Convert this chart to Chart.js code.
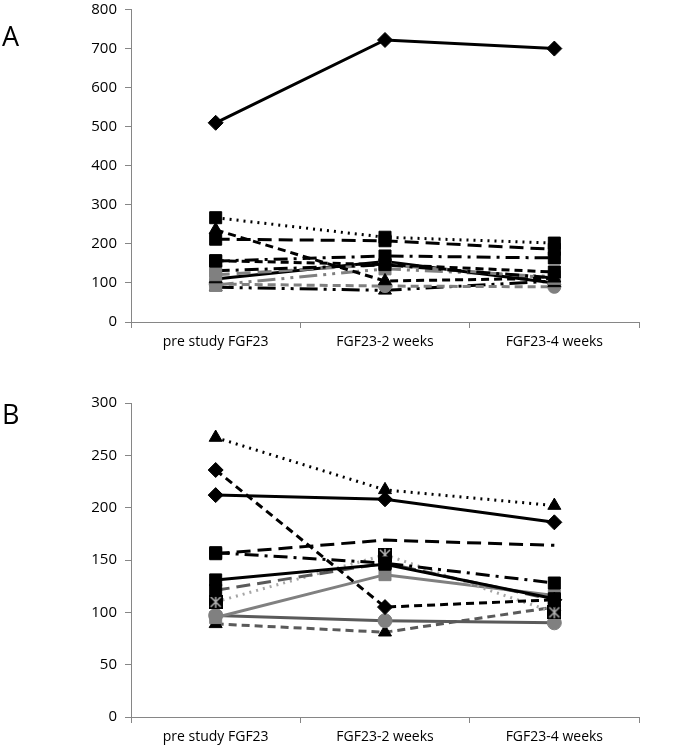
<!DOCTYPE html>
<html><head><meta charset="utf-8">
<script src="https://cdn.jsdelivr.net/npm/chart.js@4"></script>
<style>
body{margin:0;background:#fff;width:689px;height:750px;position:relative;overflow:hidden;font-family:"Open Sans",sans-serif}
.wrap{position:absolute;left:0;width:689px}
#wa{top:0;height:370px}
#wb{top:390px;height:360px}
.lab{position:absolute;left:2px;font-size:27px;line-height:27px;color:#000}
</style></head><body>
<div id="wa" class="wrap"><canvas id="ca"></canvas></div>
<div id="wb" class="wrap"><canvas id="cb"></canvas></div>
<div class="lab" style="top:22px">A</div>
<div class="lab" style="top:400px">B</div>
<script>
// ---- data ----
const categories = ["pre study FGF23", "FGF23-2 weeks", "FGF23-4 weeks"];
const ticksA = [0, 100, 200, 300, 400, 500, 600, 700, 800];
const ticksB = [0, 50, 100, 150, 200, 250, 300];
const pt0  = [510, 722, 700];
const pt1  = [267, 217, 202];
const pt2  = [212, 208, 186];
const pt3  = [236, 105, 112];
const pt4  = [156, 169, 164];
const pt5  = [157, 147, 128];
const pt6  = [131, 146, 113];
const pt7  = [121, 147, 112];
const pt8  = [110, 155, 100];
const pt9  = [95, 136, 116];
const pt10 = [97, 92, 90];
const pt11 = [89, 81, 105];

// ---- styles ----
const BLK = '#000000', DG = '#5a5a5a', G = '#808080', LG = '#a6a6a6';
const DOT = [2, 5], DASH = [8, 5], LDASH = [14, 7], DDOT = [14, 6, 3, 6], LDDOT = [18, 6, 3, 6, 3, 6];

// Excel-like "star" marker: filled square with an asterisk drawn over it
function starMarker(fill, stroke) {
  const c = document.createElement('canvas');
  c.width = 14; c.height = 14;
  const x = c.getContext('2d');
  x.fillStyle = fill; x.fillRect(0, 0, 14, 14);
  x.strokeStyle = stroke; x.lineWidth = 1.5;
  x.beginPath();
  x.moveTo(2, 2); x.lineTo(12, 12);
  x.moveTo(12, 2); x.lineTo(2, 12);
  x.moveTo(7, 1); x.lineTo(7, 13);
  x.stroke();
  return c;
}
const STAR = starMarker('#000', '#b0b0b0');

function ds(data, color, dash, style, r, pcolor, w) {
  return {
    data, borderColor: color, borderWidth: w || 3, borderDash: dash || [],
    pointStyle: style, pointRadius: r, pointBackgroundColor: pcolor || color,
    pointBorderColor: pcolor || color, pointBorderWidth: 1, tension: 0, fill: false
  };
}
const dsA = [
  ds(pt0, BLK, null, 'rectRot', 7.5),
  ds(pt1, BLK, DOT, 'rect', 8.5),
  ds(pt2, BLK, LDASH, 'rect', 8.5),
  ds(pt3, BLK, DASH, 'triangle', 7.5),
  ds(pt4, BLK, DDOT, 'rect', 8.5),
  ds(pt5, BLK, DASH, 'rect', 8.5),
  ds(pt6, BLK, DDOT, 'rect', 8.5, G),
  ds(pt7, G, LDASH, 'rect', 8.5, G),
  ds(pt8, BLK, null, 'triangle', 7.5),
  ds(pt9, G, LDDOT, 'rect', 8.5, G),
  ds(pt10, G, DASH, 'circle', 6.5, G),
  ds(pt11, BLK, LDDOT, 'triangle', 7.5)
];
const dsB = [
  ds(pt1, BLK, DOT, 'triangle', 7.5),
  ds(pt2, BLK, null, 'rectRot', 7.5),
  ds(pt3, BLK, DASH, 'rectRot', 7.5),
  ds(pt4, BLK, LDASH, 'rect', [8.5, 0, 0]),
  ds(pt5, BLK, DDOT, 'rect', 8.5),
  ds(pt6, BLK, null, 'rect', 8.5),
  ds(pt7, DG, LDASH, 'rect', 8.5, BLK),
  ds(pt8, LG, DOT, STAR, 7, LG),
  ds(pt9, G, null, 'rect', 8.5, G),
  ds(pt10, DG, null, 'circle', 7, G),
  ds(pt11, DG, DASH, 'triangle', 7.5, BLK)
];

const XFONT = {family: 'Open Sans', size: 14};
const YFONT = {family: 'Open Sans', size: 15};
function makeChart(id, datasets, ticks, padTop, xH) {
  new Chart(document.getElementById(id), {
    type: 'line',
    data: {labels: categories, datasets},
    options: {
      responsive: true, maintainAspectRatio: false, animation: false,
      layout: {padding: {top: padTop, right: 50, left: 0, bottom: 0}},
      plugins: {legend: {display: false}, tooltip: {enabled: false}},
      scales: {
        x: {
          offset: true,
          grid: {offset: true, drawOnChartArea: false, drawTicks: true, tickLength: 6, color: '#868686'},
          border: {color: '#868686', width: 1},
          ticks: {color: '#000', font: XFONT, padding: 6, maxRotation: 0, autoSkip: false},
          afterFit(s) { s.height = xH; }
        },
        y: {
          min: ticks[0], max: ticks[ticks.length - 1],
          afterBuildTicks(s) { s.ticks = ticks.map(v => ({value: v})); },
          grid: {drawOnChartArea: false, drawTicks: true, tickLength: 6, color: '#868686'},
          border: {color: '#868686', width: 1},
          ticks: {color: '#000', font: YFONT, padding: 8},
          afterFit(s) { s.width = 131; s.paddingTop = 0; s.paddingBottom = 0; }
        }
      }
    }
  });
}
makeChart('ca', dsA, ticksA, 9, 48);
makeChart('cb', dsB, ticksB, 13, 33);
</script>
</body></html>
